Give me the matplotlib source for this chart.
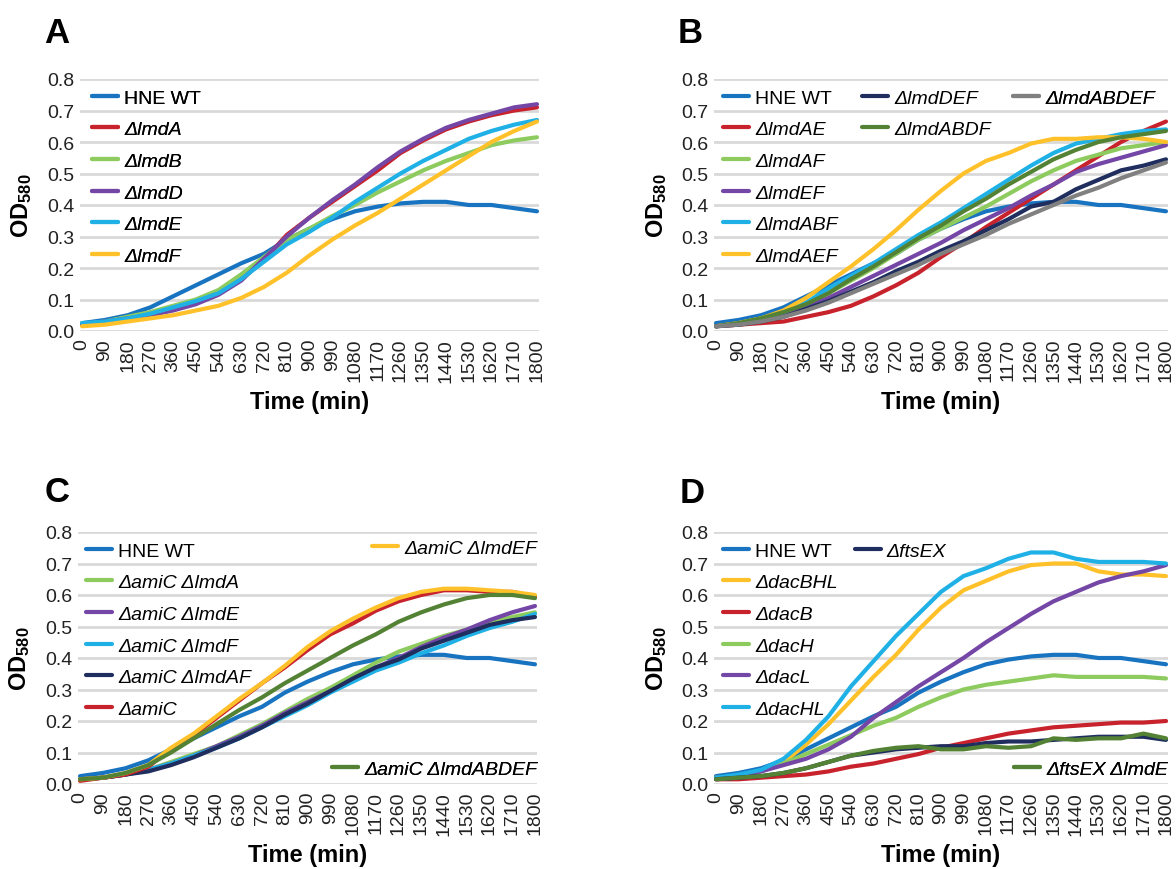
import os
import numpy as np
import matplotlib.pyplot as plt
from matplotlib import font_manager as fm
from matplotlib.ticker import FormatStrFormatter

plt.rcParams['font.family'] = ['Liberation Sans', 'DejaVu Sans']
plt.rcParams['mathtext.fontset'] = 'custom'
plt.rcParams['mathtext.rm'] = 'Liberation Sans'
plt.rcParams['mathtext.bf'] = 'Liberation Sans:bold'

# time points (min)
time = np.arange(0, 1801, 90)

# wild type, same in every panel
wt = [0.025, 0.035, 0.05, 0.075, 0.11, 0.145, 0.18, 0.215, 0.245, 0.29, 0.325,
      0.355, 0.38, 0.395, 0.405, 0.41, 0.41, 0.40, 0.40, 0.39, 0.38]

# panel A
lmdA = [0.02, 0.03, 0.04, 0.055, 0.07, 0.09, 0.12, 0.165, 0.225, 0.305, 0.36,
        0.41, 0.46, 0.51, 0.565, 0.605, 0.64, 0.665, 0.685, 0.70, 0.71]
lmdB = [0.02, 0.03, 0.045, 0.06, 0.08, 0.10, 0.13, 0.18, 0.235, 0.29, 0.325,
        0.365, 0.40, 0.44, 0.475, 0.51, 0.54, 0.565, 0.59, 0.605, 0.615]
lmdD = [0.02, 0.03, 0.04, 0.05, 0.065, 0.085, 0.115, 0.16, 0.23, 0.30, 0.36,
        0.415, 0.465, 0.52, 0.57, 0.61, 0.645, 0.67, 0.69, 0.71, 0.72]
lmdE = [0.025, 0.03, 0.04, 0.055, 0.075, 0.095, 0.12, 0.165, 0.22, 0.275, 0.315,
        0.36, 0.41, 0.455, 0.50, 0.54, 0.575, 0.61, 0.635, 0.655, 0.67]
lmdF = [0.015, 0.02, 0.03, 0.04, 0.05, 0.065, 0.08, 0.105, 0.14, 0.185, 0.24,
        0.29, 0.335, 0.375, 0.42, 0.465, 0.51, 0.555, 0.60, 0.635, 0.665]

# panel B
lmdAE = [0.015, 0.02, 0.025, 0.03, 0.045, 0.06, 0.08, 0.11, 0.145, 0.185, 0.235,
         0.28, 0.33, 0.375, 0.42, 0.465, 0.51, 0.555, 0.60, 0.635, 0.665]
lmdAF = [0.015, 0.025, 0.04, 0.06, 0.085, 0.12, 0.16, 0.20, 0.245, 0.29, 0.325,
         0.36, 0.395, 0.435, 0.475, 0.51, 0.54, 0.56, 0.58, 0.59, 0.60]
lmdEF = [0.015, 0.025, 0.035, 0.05, 0.075, 0.105, 0.14, 0.175, 0.21, 0.245, 0.28,
         0.32, 0.355, 0.39, 0.43, 0.465, 0.505, 0.53, 0.55, 0.57, 0.59]
lmdABF = [0.015, 0.025, 0.04, 0.06, 0.09, 0.135, 0.175, 0.215, 0.26, 0.305, 0.345,
          0.39, 0.435, 0.48, 0.525, 0.565, 0.595, 0.61, 0.625, 0.635, 0.64]
lmdAEF = [0.015, 0.025, 0.04, 0.065, 0.105, 0.155, 0.205, 0.26, 0.32, 0.385, 0.445,
          0.50, 0.54, 0.565, 0.595, 0.61, 0.61, 0.615, 0.615, 0.61, 0.60]
lmdDEF = [0.015, 0.02, 0.03, 0.045, 0.07, 0.095, 0.125, 0.155, 0.19, 0.22, 0.255,
          0.285, 0.32, 0.355, 0.395, 0.41, 0.45, 0.48, 0.51, 0.525, 0.545]
lmdABDF = [0.015, 0.025, 0.04, 0.06, 0.085, 0.12, 0.165, 0.205, 0.25, 0.295, 0.335,
           0.38, 0.42, 0.465, 0.505, 0.545, 0.575, 0.60, 0.615, 0.625, 0.635]
lmdABDEF = [0.015, 0.02, 0.03, 0.045, 0.065, 0.09, 0.12, 0.15, 0.18, 0.21, 0.245,
            0.275, 0.305, 0.34, 0.37, 0.40, 0.43, 0.455, 0.485, 0.51, 0.535]

# panel C
amiC_lmdA = [0.015, 0.02, 0.03, 0.045, 0.07, 0.095, 0.12, 0.155, 0.19, 0.23, 0.27,
             0.305, 0.345, 0.385, 0.42, 0.445, 0.47, 0.49, 0.515, 0.53, 0.545]
amiC_lmdE = [0.015, 0.02, 0.03, 0.045, 0.065, 0.09, 0.12, 0.15, 0.185, 0.225, 0.26,
             0.295, 0.33, 0.37, 0.40, 0.435, 0.465, 0.49, 0.52, 0.545, 0.565]
amiC_lmdF = [0.015, 0.02, 0.03, 0.045, 0.065, 0.09, 0.115, 0.145, 0.18, 0.215, 0.25,
             0.29, 0.325, 0.36, 0.385, 0.415, 0.44, 0.47, 0.495, 0.515, 0.54]
amiC_lmdAF = [0.015, 0.02, 0.03, 0.04, 0.06, 0.085, 0.115, 0.145, 0.18, 0.22, 0.255,
              0.295, 0.335, 0.37, 0.395, 0.43, 0.455, 0.48, 0.505, 0.52, 0.53]
amiC = [0.01, 0.02, 0.03, 0.055, 0.11, 0.155, 0.21, 0.265, 0.32, 0.37, 0.425,
        0.475, 0.51, 0.55, 0.58, 0.60, 0.615, 0.615, 0.61, 0.61, 0.595]
amiC_lmdEF = [0.015, 0.02, 0.035, 0.06, 0.115, 0.16, 0.215, 0.27, 0.32, 0.375, 0.435,
              0.485, 0.525, 0.56, 0.59, 0.61, 0.62, 0.62, 0.615, 0.61, 0.60]
amiC_lmdABDEF = [0.015, 0.02, 0.035, 0.06, 0.10, 0.145, 0.19, 0.235, 0.275, 0.32, 0.36,
                 0.40, 0.44, 0.475, 0.515, 0.545, 0.57, 0.59, 0.60, 0.60, 0.59]

# panel D
dacBHL = [0.02, 0.025, 0.04, 0.07, 0.125, 0.19, 0.265, 0.34, 0.41, 0.49, 0.56,
          0.615, 0.645, 0.675, 0.695, 0.70, 0.70, 0.675, 0.665, 0.665, 0.66]
dacB = [0.015, 0.015, 0.02, 0.025, 0.03, 0.04, 0.055, 0.065, 0.08, 0.095, 0.115,
        0.13, 0.145, 0.16, 0.17, 0.18, 0.185, 0.19, 0.195, 0.195, 0.20]
dacH = [0.02, 0.025, 0.04, 0.065, 0.095, 0.125, 0.155, 0.185, 0.21, 0.245, 0.275,
        0.30, 0.315, 0.325, 0.335, 0.345, 0.34, 0.34, 0.34, 0.34, 0.335]
dacL = [0.02, 0.025, 0.04, 0.06, 0.08, 0.11, 0.15, 0.21, 0.26, 0.31, 0.355,
        0.40, 0.45, 0.495, 0.54, 0.58, 0.61, 0.64, 0.66, 0.675, 0.695]
dacHL = [0.02, 0.03, 0.045, 0.08, 0.14, 0.215, 0.31, 0.39, 0.47, 0.54, 0.61,
         0.66, 0.685, 0.715, 0.735, 0.735, 0.715, 0.705, 0.705, 0.705, 0.70]
ftsEX = [0.015, 0.02, 0.025, 0.035, 0.05, 0.07, 0.09, 0.10, 0.11, 0.115, 0.12,
         0.12, 0.13, 0.135, 0.135, 0.14, 0.145, 0.15, 0.15, 0.15, 0.14]
ftsEX_lmdE = [0.015, 0.02, 0.025, 0.035, 0.05, 0.07, 0.09, 0.105, 0.115, 0.12, 0.11,
              0.11, 0.12, 0.115, 0.12, 0.145, 0.14, 0.145, 0.145, 0.16, 0.145]

blue = '#1874C0'
red = '#C8232C'
lgreen = '#8DCB5E'
purple = '#7446A6'
cyan = '#1FB1E6'
yellow = '#FFC12A'
navy = '#1F2E5E'
gray = '#808080'
dgreen = '#548235'

panels = [
    ('A', [('HNE WT', wt, blue), ('ΔlmdA', lmdA, red), ('ΔlmdB', lmdB, lgreen),
           ('ΔlmdD', lmdD, purple), ('ΔlmdE', lmdE, cyan), ('ΔlmdF', lmdF, yellow)]),
    ('B', [('HNE WT', wt, blue), ('ΔlmdAE', lmdAE, red), ('ΔlmdAF', lmdAF, lgreen),
           ('ΔlmdEF', lmdEF, purple), ('ΔlmdABF', lmdABF, cyan), ('ΔlmdAEF', lmdAEF, yellow),
           ('ΔlmdDEF', lmdDEF, navy), ('ΔlmdABDF', lmdABDF, dgreen),
           ('ΔlmdABDEF', lmdABDEF, gray)]),
    ('C', [('HNE WT', wt, blue), ('ΔamiC ΔlmdA', amiC_lmdA, lgreen),
           ('ΔamiC ΔlmdE', amiC_lmdE, purple), ('ΔamiC ΔlmdF', amiC_lmdF, cyan),
           ('ΔamiC ΔlmdAF', amiC_lmdAF, navy), ('ΔamiC', amiC, red),
           ('ΔamiC ΔlmdEF', amiC_lmdEF, yellow), ('ΔamiC ΔlmdABDEF', amiC_lmdABDEF, dgreen)]),
    ('D', [('HNE WT', wt, blue), ('ΔdacBHL', dacBHL, yellow), ('ΔdacB', dacB, red),
           ('ΔdacH', dacH, lgreen), ('ΔdacL', dacL, purple), ('ΔdacHL', dacHL, cyan),
           ('ΔftsEX', ftsEX, navy), ('ΔftsEX ΔlmdE', ftsEX_lmdE, dgreen)]),
]

# legend groups: (series indices, loc, anchor in axes coords)
legend_groups = {
    'A': [(range(0, 6), 'upper left', (0.026, 0.96))],
    'B': [(range(0, 6), 'upper left', (0.02, 0.96)),
          (range(6, 8), 'upper left', (0.326, 0.96)),
          (range(8, 9), 'upper left', (0.659, 0.96))],
    'C': [(range(0, 6), 'upper left', (0.017, 0.96)),
          (range(6, 7), 'upper right', (1.0, 0.972)),
          (range(7, 8), 'center right', (1.0, 0.06))],
    'D': [(range(0, 6), 'upper left', (0.02, 0.96)),
          (range(6, 7), 'upper left', (0.31, 0.96)),
          (range(7, 8), 'center right', (1.0, 0.06))],
}


# find a real regular-weight italic font file (not a bold italic)
def italic_props():
    prefs = ['Liberation Sans', 'Arimo', 'Roboto', 'Noto Sans', 'Open Sans', 'Lato', 'Inter']
    for name in prefs:
        for f in fm.fontManager.ttflist:
            base = os.path.basename(f.fname).lower()
            if f.name != name or f.style != 'italic':
                continue
            if 'bold' in base or 'black' in base or 'semi' in base or 'medium' in base \
                    or 'light' in base or 'thin' in base or 'extra' in base:
                continue
            return fm.FontProperties(fname=f.fname, size=14)
    return fm.FontProperties(family='DejaVu Sans', style='oblique', size=14)


ital = italic_props()

W, H = 1176, 870
fig = plt.figure(figsize=(W / 100, H / 100), dpi=100)
boxes = {'A': (80, 80, 539, 332), 'B': (714, 80, 1168, 332),
         'C': (78, 533, 537, 785), 'D': (714, 533, 1168, 785)}
letter_pos = {'A': (44, 43), 'B': (678, 43), 'C': (45, 502), 'D': (680, 503)}

for letter, series in panels:
    x0, y0, x1, y1 = boxes[letter]
    ax = fig.add_axes([x0 / W, 1 - y1 / H, (x1 - x0) / W, (y1 - y0) / H])
    lines = []
    for label, vals, col in series:
        ln, = ax.plot(time, vals, color=col, lw=3, label=label,
                      solid_capstyle='round', solid_joinstyle='round')
        lines.append(ln)
    ax.set_xlim(-8, 1808)
    ax.set_ylim(0, 0.8)
    ax.set_xticks(time)
    ax.set_xticklabels([str(t) for t in time], rotation=90)
    ax.set_yticks(np.arange(0, 0.81, 0.1))
    ax.yaxis.set_major_formatter(FormatStrFormatter('%.1f'))
    ax.tick_params(length=0, labelsize=14, colors='#222222')
    ax.tick_params(axis='x', pad=5)
    ax.tick_params(axis='y', pad=4)
    ax.grid(axis='y', color='#D9D9D9', lw=2)
    ax.set_axisbelow(True)
    for s in ax.spines.values():
        s.set_visible(False)
    ax.set_xlabel('Time (min)', fontsize=17, fontweight='bold')
    ax.xaxis.set_label_coords(0.5, -0.235)
    ax.set_ylabel(r'$\mathbf{OD_{580}}$', fontsize=17)
    ax.yaxis.set_label_coords(-0.1, 0.5)

    for idx, loc, anchor in legend_groups[letter]:
        hs = [lines[i] for i in idx]
        leg = ax.legend(handles=hs, loc=loc, bbox_to_anchor=anchor, frameon=False,
                        fontsize=14, handlelength=1.35, handletextpad=0.3,
                        labelspacing=0.72, borderpad=0, borderaxespad=0)
        for t in leg.get_texts():
            if t.get_text() != 'HNE WT':
                t.set_fontproperties(ital)
        ax.add_artist(leg)

    lx, ly = letter_pos[letter]
    fig.text(lx / W, 1 - ly / H, letter, fontsize=25, fontweight='bold',
             ha='left', va='baseline')

fig.savefig('out.png', dpi=100)
